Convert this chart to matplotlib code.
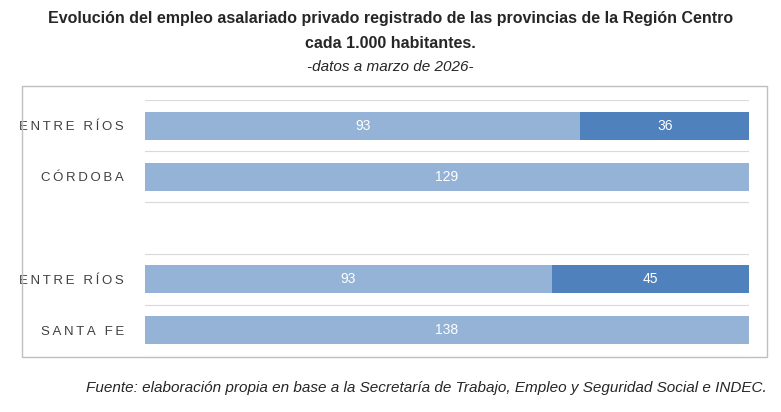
import matplotlib as mpl
mpl.rcParams['figure.dpi'] = 100
mpl.rcParams['font.family'] = ['Liberation Sans', 'DejaVu Sans']
import matplotlib.pyplot as plt
from matplotlib.patches import Rectangle

# datos
provincias = ['ENTRE RÍOS', 'CÓRDOBA', '', 'ENTRE RÍOS', 'SANTA FE']
base = [93, 129, 0, 93, 138]     # serie clara
extra = [36, 0, 0, 45, 0]        # serie oscura

clara = '#95B3D7'
oscura = '#4F81BD'

fig = plt.figure(figsize=(7.81, 4.12))
fig.patch.set_facecolor('white')
# marco gris
fig.patches.append(Rectangle((22/781, 1-357/412), 745/781, 271/412, transform=fig.transFigure,
                             fill=False, edgecolor='#BFBFBF', lw=1))

ax = fig.add_axes([145/781, 1-356/412, 604/781, 256/412])
y = list(range(len(provincias)))
tot = [b + e for b, e in zip(base, extra)]
for i in y:
    if tot[i] == 0:
        continue
    fb = base[i] / tot[i]
    fe = extra[i] / tot[i]
    ax.barh(i, fb, height=0.55, color=clara)
    ax.text(fb/2, i, str(base[i]), color='white', ha='center', va='center', fontsize=10)
    if extra[i]:
        ax.barh(i, fe, left=fb, height=0.55, color=oscura)
        ax.text(fb + fe/2, i, str(extra[i]), color='white', ha='center', va='center', fontsize=10)

ax.set_xlim(0, 1)
ax.set_ylim(len(provincias) - 0.5, -0.5)
ax.set_yticks(y)
ax.set_yticklabels(['\u2009'.join(p) for p in provincias], color='#404040', fontsize=9.5)
ax.tick_params(axis='y', length=0, pad=15)
ax.set_xticks([])
for s in ax.spines.values():
    s.set_visible(False)
for k in range(len(provincias) + 1):
    ax.axhline(k - 0.5, color='#D9D9D9', lw=0.8, zorder=0)

fig.text(0.5, 1-18/412, 'Evolución del empleo asalariado privado registrado de las provincias de la Región Centro',
         ha='center', va='center', fontsize=11.5, fontweight='bold', color='#262626')
fig.text(0.5, 1-44/412, 'cada 1.000 habitantes.', ha='center', va='center', fontsize=11.5,
         fontweight='bold', color='#262626')
fig.text(0.5, 1-67/412, '-datos a marzo de 2026-', ha='center', va='center', fontsize=11,
         style='italic', color='#262626')
fig.text(767/781, 1-388/412,
         'Fuente: elaboración propia en base a la Secretaría de Trabajo, Empleo y Seguridad Social e INDEC.',
         ha='right', va='center', fontsize=11, style='italic', color='#262626')

plt.savefig('out.png', dpi=100)
